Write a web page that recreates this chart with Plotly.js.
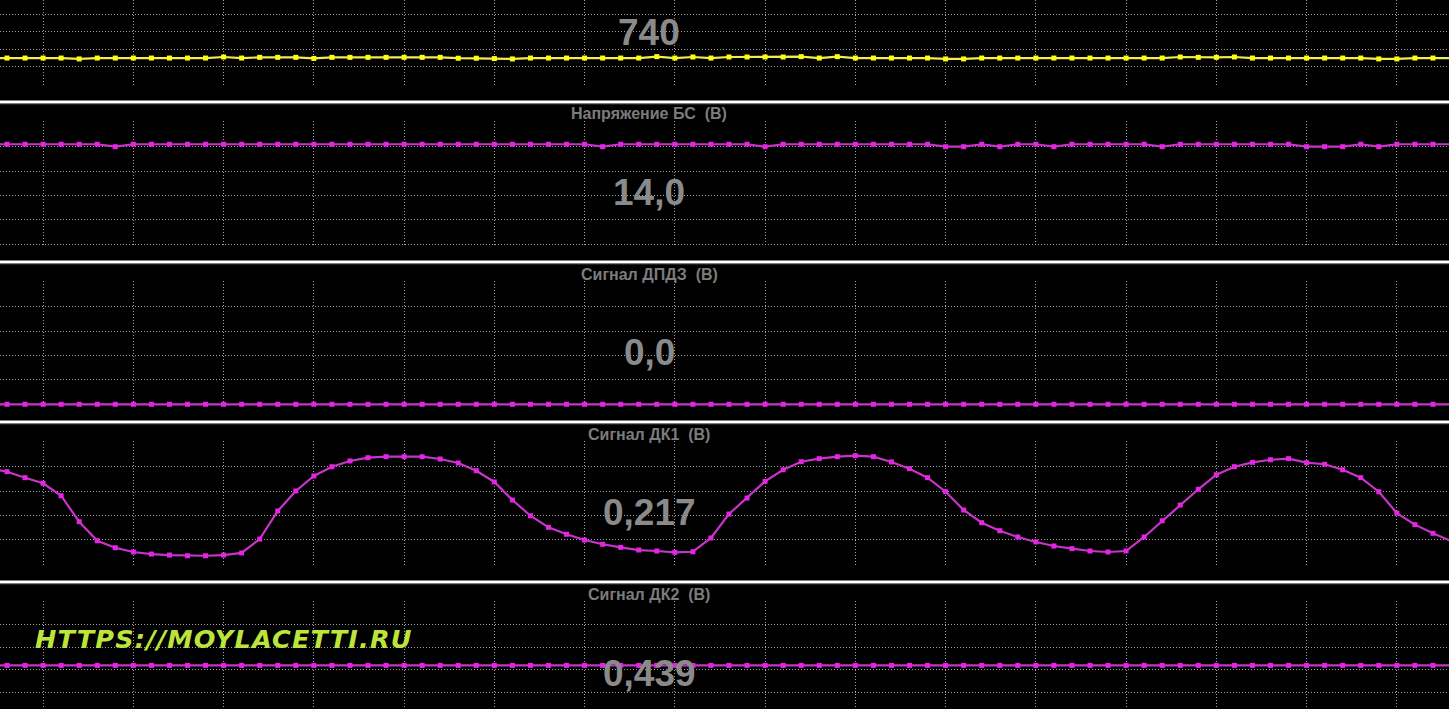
<!DOCTYPE html>
<html>
<head>
<meta charset="utf-8">
<script src="https://cdn.plot.ly/plotly-3.0.1.min.js"></script>
<style>
html,body{margin:0;padding:0;background:#000;overflow:hidden;}
#chart{width:1449px;height:709px;}
</style>
</head>
<body>
<div id="chart"></div>
<script>
// ---------- DATA ----------
// first sample index shown (one sample is partly off-screen on each side)
const firstSample = -1;

// Обороты двигателя (об/мин)
const rpm = [
  750,
  750, 750, 750, 750, 725, 750, 750, 750, 750, 750,
  750, 750, 780, 750, 770, 770, 770, 740, 770, 770,
  770, 770, 770, 770, 770, 745, 745, 735, 725, 750,
  750, 750, 750, 750, 750, 750, 790, 750, 780, 750,
  780, 780, 780, 780, 790, 750, 790, 750, 750, 750,
  750, 750, 725, 725, 750, 750, 750, 750, 750, 750,
  750, 750, 750, 750, 750, 780, 770, 770, 780, 750,
  750, 750, 750, 750, 750, 750, 725, 725, 750, 750,
  750
];

// Напряжение БС (В)
const batteryV = [
  14.1,
  14.1, 14.1, 14.1, 14.1, 14.1, 14.1, 14.0, 14.1, 14.1, 14.1,
  14.1, 14.1, 14.1, 14.1, 14.1, 14.1, 14.1, 14.1, 14.1, 14.1,
  14.1, 14.1, 14.1, 14.1, 14.1, 14.1, 14.1, 14.1, 14.1, 14.1,
  14.1, 14.1, 14.1, 14.0, 14.1, 14.1, 14.1, 14.1, 14.1, 14.1,
  14.1, 14.1, 14.0, 14.1, 14.1, 14.1, 14.1, 14.1, 14.1, 14.1,
  14.1, 14.1, 14.0, 14.0, 14.1, 14.0, 14.1, 14.1, 14.0, 14.1,
  14.1, 14.1, 14.1, 14.1, 14.0, 14.1, 14.1, 14.1, 14.1, 14.1,
  14.1, 14.1, 14.0, 14.0, 14.0, 14.1, 14.0, 14.1, 14.1, 14.1,
  14.1
];

// Сигнал ДПДЗ (В)
const tpsV = [
  0,
  0, 0, 0, 0, 0, 0, 0, 0, 0, 0,
  0, 0, 0, 0, 0, 0, 0, 0, 0, 0,
  0, 0, 0, 0, 0, 0, 0, 0, 0, 0,
  0, 0, 0, 0, 0, 0, 0, 0, 0, 0,
  0, 0, 0, 0, 0, 0, 0, 0, 0, 0,
  0, 0, 0, 0, 0, 0, 0, 0, 0, 0,
  0, 0, 0, 0, 0, 0, 0, 0, 0, 0,
  0, 0, 0, 0, 0, 0, 0, 0, 0, 0,
  0
];

// Сигнал ДК1 (В)
const o2s1V = [
  0.787,
  0.759, 0.710, 0.664, 0.562, 0.349, 0.193, 0.136, 0.101, 0.084, 0.076,
  0.070, 0.070, 0.076, 0.093, 0.207, 0.437, 0.601, 0.724, 0.800, 0.847,
  0.874, 0.882, 0.882, 0.882, 0.863, 0.830, 0.767, 0.675, 0.527, 0.398,
  0.303, 0.246, 0.199, 0.164, 0.139, 0.117, 0.109, 0.098, 0.103, 0.216,
  0.412, 0.543, 0.680, 0.775, 0.841, 0.866, 0.882, 0.890, 0.882, 0.839,
  0.784, 0.710, 0.595, 0.445, 0.341, 0.275, 0.224, 0.183, 0.150, 0.128,
  0.109, 0.101, 0.109, 0.224, 0.357, 0.486, 0.615, 0.734, 0.800, 0.836,
  0.857, 0.866, 0.833, 0.820, 0.775, 0.710, 0.595, 0.420, 0.325, 0.254,
  0.191
];

// Сигнал ДК2 (В)
const o2s2V = [
  0.439,
  0.439, 0.439, 0.439, 0.439, 0.439, 0.439, 0.439, 0.439, 0.439, 0.439,
  0.439, 0.439, 0.439, 0.439, 0.439, 0.439, 0.439, 0.439, 0.439, 0.439,
  0.439, 0.439, 0.439, 0.439, 0.439, 0.439, 0.439, 0.439, 0.439, 0.439,
  0.439, 0.439, 0.439, 0.439, 0.439, 0.439, 0.439, 0.439, 0.439, 0.439,
  0.439, 0.439, 0.439, 0.439, 0.439, 0.439, 0.439, 0.439, 0.439, 0.439,
  0.439, 0.439, 0.439, 0.439, 0.439, 0.439, 0.439, 0.439, 0.439, 0.439,
  0.439, 0.439, 0.439, 0.439, 0.439, 0.439, 0.439, 0.439, 0.439, 0.439,
  0.439, 0.439, 0.439, 0.439, 0.439, 0.439, 0.439, 0.439, 0.439, 0.439,
  0.439
];

const panelTitles = ['', 'Напряжение БС\u00a0 (В)', 'Сигнал ДПДЗ\u00a0 (В)', 'Сигнал ДК1\u00a0 (В)', 'Сигнал ДК2\u00a0 (В)'];
const currentValues = ['740', '14,0', '0,0', '0,217', '0,439'];
const watermarkText = 'HTTPS://MOYLACETTI.RU';

// ---------- LAYOUT / STYLE ----------
const W = 1449, H = 709;
const series = [rpm, batteryV, tpsV, o2s1V, o2s2V];
const xs = rpm.map((_, k) => k + firstSample);

// pixel geometry of each panel's grid block (top grid line, bottom grid line)
const panels = [
  {top: -3.2,  bottom: 84.3,  vTop: 2500, vBot: 0,  dtick: 500, padT: 0, padB: 1, color: '#ffff10', lineColor: '#eeee50', titleY: -46, valueY: 32.5},
  {top: 122.3, bottom: 244.3, vTop: 15,   vBot: 10, dtick: 1,   padT: 1, padB: 1, color: '#e426e4', lineColor: '#c834c8', titleY: 114, valueY: 192.5},
  {top: 282.3, bottom: 404.3, vTop: 5,    vBot: 0,  dtick: 1,   padT: 1, padB: 3, color: '#e426e4', lineColor: '#c834c8', titleY: 274, valueY: 352.5},
  {top: 442.3, bottom: 564.3, vTop: 1,    vBot: 0,  dtick: 0.2, padT: 1, padB: 1, color: '#e426e4', lineColor: '#c834c8', titleY: 434, valueY: 512.5},
  {top: 602.3, bottom: 714.8, vTop: 1,    vBot: 0,  dtick: 0.2, padT: 1, padB: 0, color: '#e426e4', lineColor: '#c834c8', titleY: 594, valueY: 673}
];
const separatorsY = [101.8, 261.8, 421.8, 581.8];
const centreX = 649 / W;

const gridColor = '#a4a4a4';
const gridDash = '1px,2px';

const layout = {
  width: W, height: H,
  margin: {l: 0, r: 0, t: 0, b: 0, pad: 0},
  paper_bgcolor: '#000', plot_bgcolor: '#000',
  showlegend: false,
  annotations: [], shapes: []
};

const traces = [];
panels.forEach((p, k) => {
  const n = k === 0 ? '' : String(k + 1);
  const upp = (p.vTop - p.vBot) / (p.bottom - p.top);
  const dTop = Math.max(0, p.top - p.padT);
  const dBot = Math.min(H, p.bottom + p.padB);
  const rTop = p.vTop + (p.top - dTop) * upp;
  const rBot = p.vBot - (dBot - p.bottom) * upp;

  layout['xaxis' + n] = {
    anchor: 'y' + n,
    domain: [0, 1],
    range: [-7 / 18.05, (W - 7) / 18.05],
    tick0: 2, dtick: 5,
    showgrid: true, gridcolor: gridColor, griddash: gridDash, gridwidth: 1,
    showticklabels: false, ticks: '', zeroline: false, showline: false,
    fixedrange: true
  };
  if (k > 0) layout['xaxis' + n].matches = 'x';
  layout['yaxis' + n] = {
    anchor: 'x' + n,
    domain: [1 - dBot / H, 1 - dTop / H],
    range: [rBot, rTop],
    tick0: 0, dtick: p.dtick,
    showgrid: true, gridcolor: gridColor, griddash: gridDash, gridwidth: 1,
    showticklabels: false, ticks: '', zeroline: false, showline: false,
    fixedrange: true
  };

  traces.push({
    type: 'scatter', mode: 'lines+markers',
    x: xs, y: series[k],
    xaxis: 'x' + n, yaxis: 'y' + n,
    line: {color: p.lineColor, width: 2.2},
    marker: {symbol: 'square', size: 5, color: p.color, line: {width: 0}},
    cliponaxis: false,
    hoverinfo: 'skip'
  });

  if (panelTitles[k]) {
    layout.annotations.push({
      xref: 'paper', yref: 'paper',
      x: centreX, y: 1 - p.titleY / H,
      xanchor: 'center', yanchor: 'middle',
      text: '<b>' + panelTitles[k] + '</b>',
      showarrow: false,
      font: {family: 'Liberation Sans, Arial, sans-serif', size: 16, color: '#7c7c7c'}
    });
  }
  layout.annotations.push({
    xref: 'paper', yref: 'paper',
    x: centreX, y: 1 - p.valueY / H,
    xanchor: 'center', yanchor: 'middle',
    text: '<b>' + currentValues[k] + '</b>',
    showarrow: false,
    font: {family: 'Liberation Sans, Arial, sans-serif', size: 37, color: '#8a8a8a'}
  });
});

// separators between panels
separatorsY.forEach(sy => {
  layout.shapes.push({
    type: 'line', xref: 'paper', yref: 'paper', x0: 0, x1: 1,
    y0: 1 - sy / H, y1: 1 - sy / H,
    line: {color: '#ffffff', width: 2.6}, layer: 'above'
  });
  layout.shapes.push({
    type: 'line', xref: 'paper', yref: 'paper', x0: 0, x1: 1,
    y0: 1 - (sy + 1.9) / H, y1: 1 - (sy + 1.9) / H,
    line: {color: '#9a9a9a', width: 1}, layer: 'above'
  });
});

// watermark
layout.annotations.push({
  xref: 'paper', yref: 'paper',
  x: 224 / W, y: 1 - 639 / H,
  xanchor: 'center', yanchor: 'middle',
  text: '<span style="letter-spacing:1.2px">' + watermarkText + '</span>',
  showarrow: false,
  font: {family: 'DejaVu Sans, sans-serif', size: 25.5, color: '#bde43a', weight: 'bold', style: 'italic'}
});

Plotly.newPlot('chart', traces, layout, {staticPlot: true, displayModeBar: false});
</script>
</body>
</html>
